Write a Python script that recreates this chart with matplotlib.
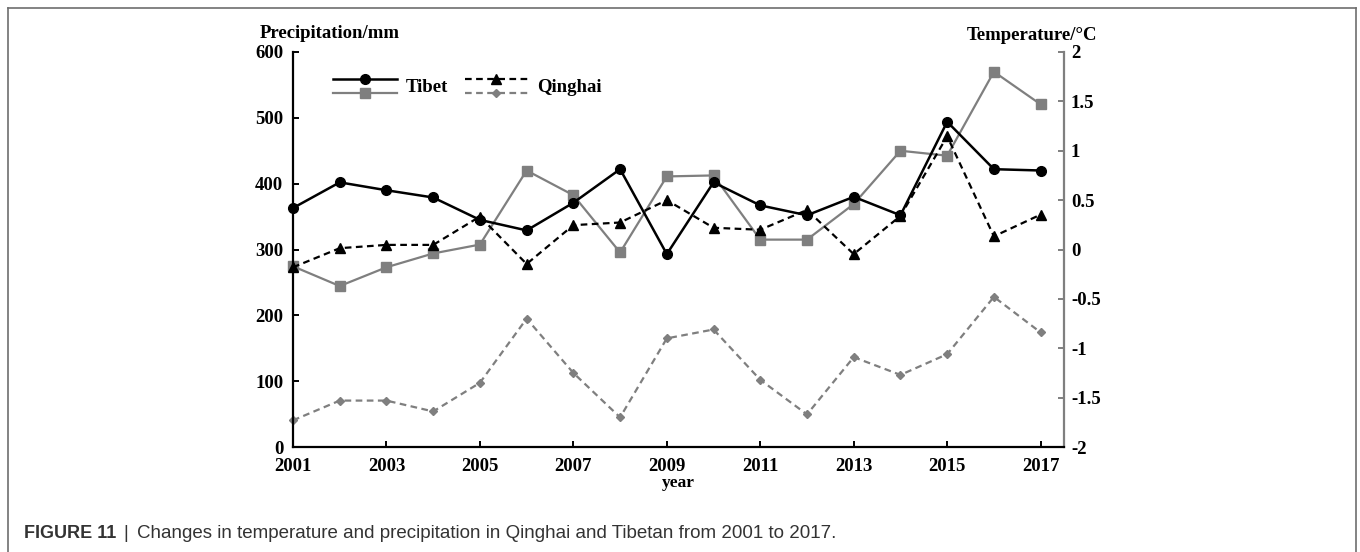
import numpy as np
import matplotlib
matplotlib.use("Agg")
import matplotlib.pyplot as plt
from matplotlib.lines import Line2D
from matplotlib.legend_handler import HandlerBase

# annual values, 2001-2017
years = list(range(2001, 2018))
tibet_precip = [363, 402, 390, 379, 345, 329, 371, 422, 293, 402, 367, 352, 380, 352, 494, 422, 420]
qinghai_precip = [273, 302, 307, 307, 350, 278, 337, 341, 375, 333, 330, 360, 293, 351, 472, 320, 353]
tibet_temp = [-0.17, -0.37, -0.18, -0.04, 0.05, 0.80, 0.55, -0.03, 0.74, 0.75,
              0.10, 0.10, 0.46, 1.00, 0.95, 1.80, 1.47]
qinghai_temp = [-1.73, -1.53, -1.53, -1.64, -1.35, -0.70, -1.25, -1.70, -0.90, -0.81,
                -1.32, -1.67, -1.09, -1.27, -1.06, -0.48, -0.84]

xticks = list(range(2001, 2018, 2))
precip_ticks = [0, 100, 200, 300, 400, 500, 600]
temp_ticks = [-2, -1.5, -1, -0.5, 0, 0.5, 1, 1.5, 2]
temp_labels = ["-2", "-1.5", "-1", "-0.5", "0", "0.5", "1", "1.5", "2"]

SERIF = "Liberation Serif"
GRAY = "#7f7f7f"


class StackedHandler(HandlerBase):
    # two lines stacked vertically in one legend entry
    def create_artists(self, legend, orig_handle, xdescent, ydescent,
                       width, height, fontsize, trans):
        artists = []
        yc = height / 2 - ydescent
        for h, dy in zip(orig_handle, (5.0, -5.0)):
            ln = Line2D([-xdescent, width - xdescent], [yc + dy, yc + dy],
                        color=h.get_color(), linestyle=h.get_linestyle(),
                        linewidth=h.get_linewidth())
            if h.get_linestyle() != "-":
                ln.set_dashes((3, 2))
            mk = Line2D([width / 2 - xdescent], [yc + dy], linestyle="none",
                        marker=h.get_marker(), markersize=h.get_markersize(),
                        color=h.get_color())
            for a in (ln, mk):
                a.set_transform(trans)
                artists.append(a)
        return artists


fig = plt.figure(figsize=(13.6, 5.52), dpi=100)
ax = fig.add_axes([293 / 1360, 1 - 447 / 552, 771 / 1360, 395 / 552])
ax2 = ax.twinx()

# temperature (right axis, gray)
l_tt, = ax2.plot(years, tibet_temp, color=GRAY, lw=1.6, marker="s", ms=6.5,
                 clip_on=False, zorder=3)
l_qt, = ax2.plot(years, qinghai_temp, color=GRAY, lw=1.6, ls="--", dashes=(3, 2),
                 marker="D", ms=4.5, clip_on=False, zorder=3)

# precipitation (left axis, black)
l_tp, = ax.plot(years, tibet_precip, color="black", lw=1.8, marker="o", ms=7,
                clip_on=False, zorder=3)
l_qp, = ax.plot(years, qinghai_precip, color="black", lw=1.6, ls="--", dashes=(3, 2),
                marker="^", ms=6.5, clip_on=False, zorder=3)

ax.set_zorder(ax2.get_zorder() + 1)
ax.patch.set_visible(False)

ax.set_xlim(2001, 2017.5)
ax.set_ylim(0, 600)
ax2.set_ylim(-2, 2)

ax.set_xticks(xticks)
ax.set_xticklabels([str(y) for y in xticks])
ax.set_yticks(precip_ticks)
ax.set_yticklabels([str(v) for v in precip_ticks])
ax2.set_yticks(temp_ticks)
ax2.set_yticklabels(temp_labels)

for a in (ax, ax2):
    a.spines["top"].set_visible(False)
ax.spines["right"].set_visible(False)
ax2.spines["left"].set_visible(False)
ax2.spines["bottom"].set_visible(False)
ax.spines["left"].set_linewidth(1.6)
ax.spines["bottom"].set_linewidth(1.6)
ax2.spines["right"].set_linewidth(1.6)
ax2.spines["right"].set_color(GRAY)

ax.tick_params(axis="x", direction="in", length=4.5, width=1.4, pad=8)
ax.tick_params(axis="y", direction="in", length=4, width=1.4, pad=7)
ax2.tick_params(axis="y", direction="in", length=4, width=1.4, pad=5, color=GRAY)

for lab in ax.get_xticklabels() + ax.get_yticklabels() + ax2.get_yticklabels():
    lab.set_fontfamily(SERIF)
    lab.set_fontweight("bold")
    lab.set_fontsize(13.5)
    lab.set_color("black")

ax.set_xlabel("year", fontfamily=SERIF, fontweight="bold", fontsize=12.5, labelpad=0)

ax.text(0.048, 1.048, "Precipitation/mm", transform=ax.transAxes, ha="center",
        va="center", fontfamily=SERIF, fontweight="bold", fontsize=13.5)
ax.text(0.958, 1.043, "Temperature/°C", transform=ax.transAxes, ha="center",
        va="center", fontfamily=SERIF, fontweight="bold", fontsize=13.5)

leg = ax.legend([(l_tp, l_tt), (l_qp, l_qt)], ["Tibet", "Qinghai"], ncol=2,
                handler_map={tuple: StackedHandler()}, frameon=False,
                loc="upper left", bbox_to_anchor=(0.052, 0.942),
                handlelength=3.4, handleheight=1.4, handletextpad=0.45,
                columnspacing=0.9, borderpad=0, borderaxespad=0,
                prop={"family": SERIF, "weight": "bold", "size": 13.5})

# outer frame
frame_kw = dict(transform=fig.transFigure, color="#6e6e6e", lw=1.2)
fig.add_artist(Line2D([8 / 1360, 1356 / 1360], [1 - 8 / 552, 1 - 8 / 552], **frame_kw))
fig.add_artist(Line2D([8 / 1360, 8 / 1360], [0, 1 - 8 / 552], **frame_kw))
fig.add_artist(Line2D([1356 / 1360, 1356 / 1360], [0, 1 - 8 / 552], **frame_kw))

# caption
cap_y = 1 - 534 / 552
fig.text(24 / 1360, cap_y, "FIGURE 11", fontfamily="Liberation Sans",
         fontweight="bold", fontsize=13, color="#333333", va="center")
fig.text(123 / 1360, cap_y, "|", fontfamily="Liberation Sans", fontsize=13.5,
         color="#333333", va="center")
fig.text(137 / 1360, cap_y,
         "Changes in temperature and precipitation in Qinghai and Tibetan from 2001 to 2017.",
         fontfamily="Liberation Sans", fontsize=13.5, color="#333333", va="center")

fig.savefig("out.png", dpi=100)
